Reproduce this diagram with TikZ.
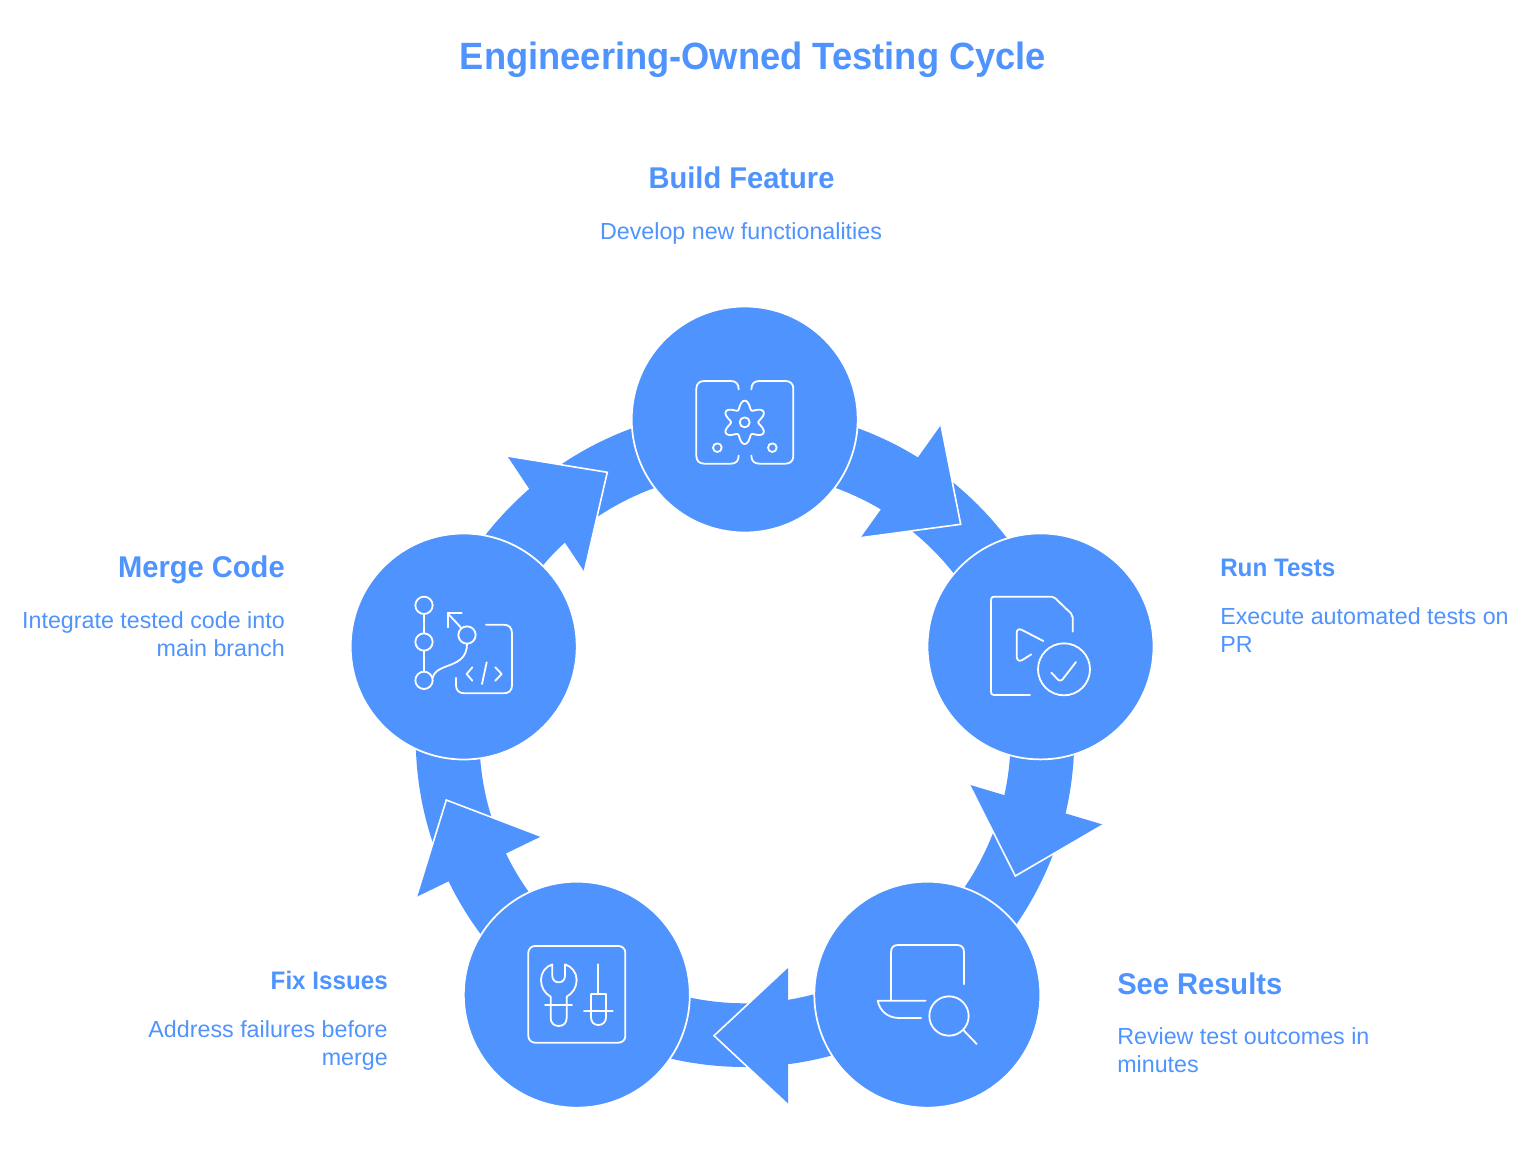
\documentclass[tikz,border=0pt]{standalone}
\usepackage{fontspec}
\setmainfont{Liberation Sans}
\newfontface\boldnarrow[FakeStretch=0.955]{Liberation Sans Bold}
\newfontface\boldmid[FakeStretch=0.97]{Liberation Sans Bold}
\definecolor{brand}{HTML}{4F93FF}
\tikzset{
  zs/.style 2 args={shift={(#1,#2)},x=0.25pt,y=-0.25pt},
  hub/.style={circle,fill=brand,draw=white,line width=1.3pt,minimum size=169.5pt,inner sep=0pt,outer sep=0pt},
  icon/.style={draw=white,line width=1.35pt,line cap=round,line join=round},
  head/.style={fill=brand},
  headedge/.style={draw=white,line width=1.2pt,line join=miter},
  titletext/.style={text=brand,font=\fontsize{28.5pt}{34pt}\boldnarrow,inner sep=0pt},
  stepbig/.style={text=brand,font=\fontsize{22.5pt}{27pt}\boldmid,inner sep=0pt},
  stepsmall/.style={text=brand,font=\fontsize{19pt}{24pt}\boldnarrow,inner sep=0pt},
  desc/.style={text=brand,font=\fontsize{17.45pt}{21pt}\selectfont,inner sep=0pt},
}
\begin{document}
\begin{tikzpicture}[x=0.75pt,y=-0.75pt]
\useasboundingbox (0,0) rectangle (1536,1152);
\fill[white] (0,0) rectangle (1536,1152);
% ring
\fill[brand,even odd rule] (745,737.7) circle[radius=329.3] (745,737.7) circle[radius=265.6];
% arrowheads
\fill[head] (941,425) -- (960.7,524.3) -- (860.7,537.7) -- cycle;
\draw[headedge] (941,425) -- (960.7,524.3) -- (860.7,537.7);
\fill[head] (969.3,784.7) -- (1015.3,876) -- (1103.3,824.7) -- cycle;
\draw[headedge] (969.3,784.7) -- (1015.3,876) -- (1103.3,824.7);
\fill[head] (788,966.7) -- (714,1035.7) -- (788,1104.7) -- cycle;
\draw[headedge] (788,966.7) -- (714,1035.7) -- (788,1104.7);
\fill[head] (541.3,836.3) -- (446.3,800) -- (416.3,897) -- cycle;
\draw[headedge] (541.3,836.3) -- (446.3,800) -- (416.3,897);
\fill[head] (507.3,456) -- (607.3,472.3) -- (584.3,571.7) -- cycle;
\draw[headedge] (507.3,456) -- (607.3,472.3) -- (584.3,571.7);
% hubs
\node[hub] (build) at (744.7,419.5) {};
\node[hub] (run) at (1040.5,646.4) {};
\node[hub] (see) at (927.3,994.7) {};
\node[hub] (fix) at (576.8,994.7) {};
\node[hub] (merge) at (463.7,646.5) {};
% icon: build
\begin{scope}[zs={630}{300},icon]
\draw (326,268) .. controls (326,252) and (318,243) .. (303,243) -- (222,243) .. controls (208,243) and (199,252) .. (199,266) -- (199,468) .. controls (199,482) and (208,491) .. (222,491) -- (303,491) .. controls (318,491) and (326,482) .. (326,467);
\draw (364,268) .. controls (364,252) and (372,243) .. (388,243) -- (467,243) .. controls (481,243) and (490,252) .. (490,266) -- (490,468) .. controls (490,482) and (481,491) .. (467,491) -- (388,491) .. controls (372,491) and (364,482) .. (364,467);
\draw (262,443) circle[radius=13];
\draw (427,443) circle[radius=13];
\draw (344,367) circle[radius=15];
\draw plot[domain=0:360,samples=121,smooth] ({344+(53+12*cos(6*\x))*cos(\x+90)},{367-(53+12*cos(6*\x))*sin(\x+90)}) -- cycle;
\end{scope}
% icon: run
\begin{scope}[zs={930}{530},icon]
\draw (300,495) -- (192,495) .. controls (186,495) and (183,492) .. (183,486) -- (183,210) .. controls (183,203) and (186,200) .. (192,200) -- (366,200) .. controls (370,200) and (373,202) .. (376,205) -- (423,250) .. controls (427,254) and (428,257) .. (428,262) -- (428,305);
\draw (340,333) -- (276,300) .. controls (267,295) and (260,299) .. (260,309) -- (260,378) .. controls (260,390) and (267,396) .. (277,390) -- (304,373);
\draw (402,418) circle[radius=78];
\draw (364,428) -- (384,449) .. controls (388,453) and (393,453) .. (397,449) -- (438,396);
\end{scope}
% icon: see
\begin{scope}[zs={810}{880},icon]
\draw (243,362) -- (243,217) .. controls (243,203) and (250,195) .. (264,195) -- (441,195) .. controls (455,195) and (462,203) .. (462,217) -- (462,313);
\draw (347,362) -- (203,362) .. controls (210,395) and (235,414) .. (268,414) -- (334,414);
\draw (417,408) circle[radius=59];
\draw (460,450) -- (500,492);
\end{scope}
% icon: fix
\begin{scope}[zs={460}{880},icon]
\draw[rounded corners=5pt] (205,198) rectangle (496,488);
\draw (277,253) .. controls (256,260) and (243,278) .. (243,300) .. controls (243,322) and (254,340) .. (272,350) -- (272,414) .. controls (272,429) and (282,438) .. (296,438) .. controls (310,438) and (320,429) .. (320,414) -- (320,350) .. controls (338,340) and (350,322) .. (350,300) .. controls (350,278) and (336,260) .. (315,253) -- (315,288) .. controls (315,299) and (307,307) .. (296,307) .. controls (285,307) and (277,299) .. (277,288) -- cycle;
\draw (255,374) -- (336,374);
\draw (415,253) -- (415,342);
\draw (393,412) -- (393,342) -- (438,342) -- (438,412) .. controls (438,426) and (428,435) .. (415,435) .. controls (402,435) and (393,426) .. (393,412) -- cycle;
\draw (372,394) -- (458,394);
\end{scope}
% icon: merge
\begin{scope}[zs={350}{530},icon]
\draw (222,226) circle[radius=26];
\draw (222,336) circle[radius=26];
\draw (222,451) circle[radius=26];
\draw (351,315) circle[radius=26];
\draw (222,252) -- (222,310);
\draw (222,362) -- (222,425);
\draw (248,444) .. controls (258,395) and (351,420) .. (351,341);
\draw (335,295) -- (293,250);
\draw (293,292) -- (293,250) -- (335,250);
\draw (408,284) -- (460,284) .. controls (477,284) and (486,293) .. (486,310) -- (486,465) .. controls (486,482) and (477,490) .. (460,490) -- (345,490) .. controls (327,490) and (318,482) .. (318,465) -- (318,443);
\draw (367,412) -- (350,432) -- (367,452);
\draw (410,397) -- (396,462);
\draw (436,412) -- (455,432) -- (436,452);
\end{scope}
% texts
\node[titletext,anchor=base] (title) at (753,70) {Engineering-Owned Testing Cycle};
\node[stepbig,anchor=base] (buildt) at (741.5,189) {Build Feature};
\node[desc,anchor=base] (buildd) at (741,239) {Develop new functionalities};
\node[stepsmall,anchor=base west] (runt) at (1220,576) {Run Tests};
\node[desc,anchor=north west,align=left] (rund) at (1220,607.5) {Execute automated tests on\\PR};
\node[stepbig,anchor=base west] (seet) at (1117,994) {See Results};
\node[desc,anchor=north west,align=left] (seed) at (1117,1027.5) {Review test outcomes in\\minutes};
\node[stepsmall,anchor=base east] (fixt) at (388,989) {Fix Issues};
\node[desc,anchor=north east,align=right] (fixd) at (388,1020.5) {Address failures before\\merge};
\node[stepbig,anchor=base east] (merget) at (285,577) {Merge Code};
\node[desc,anchor=north east,align=right] (merged) at (285,611.5) {Integrate tested code into\\main branch};
\end{tikzpicture}
\end{document}
